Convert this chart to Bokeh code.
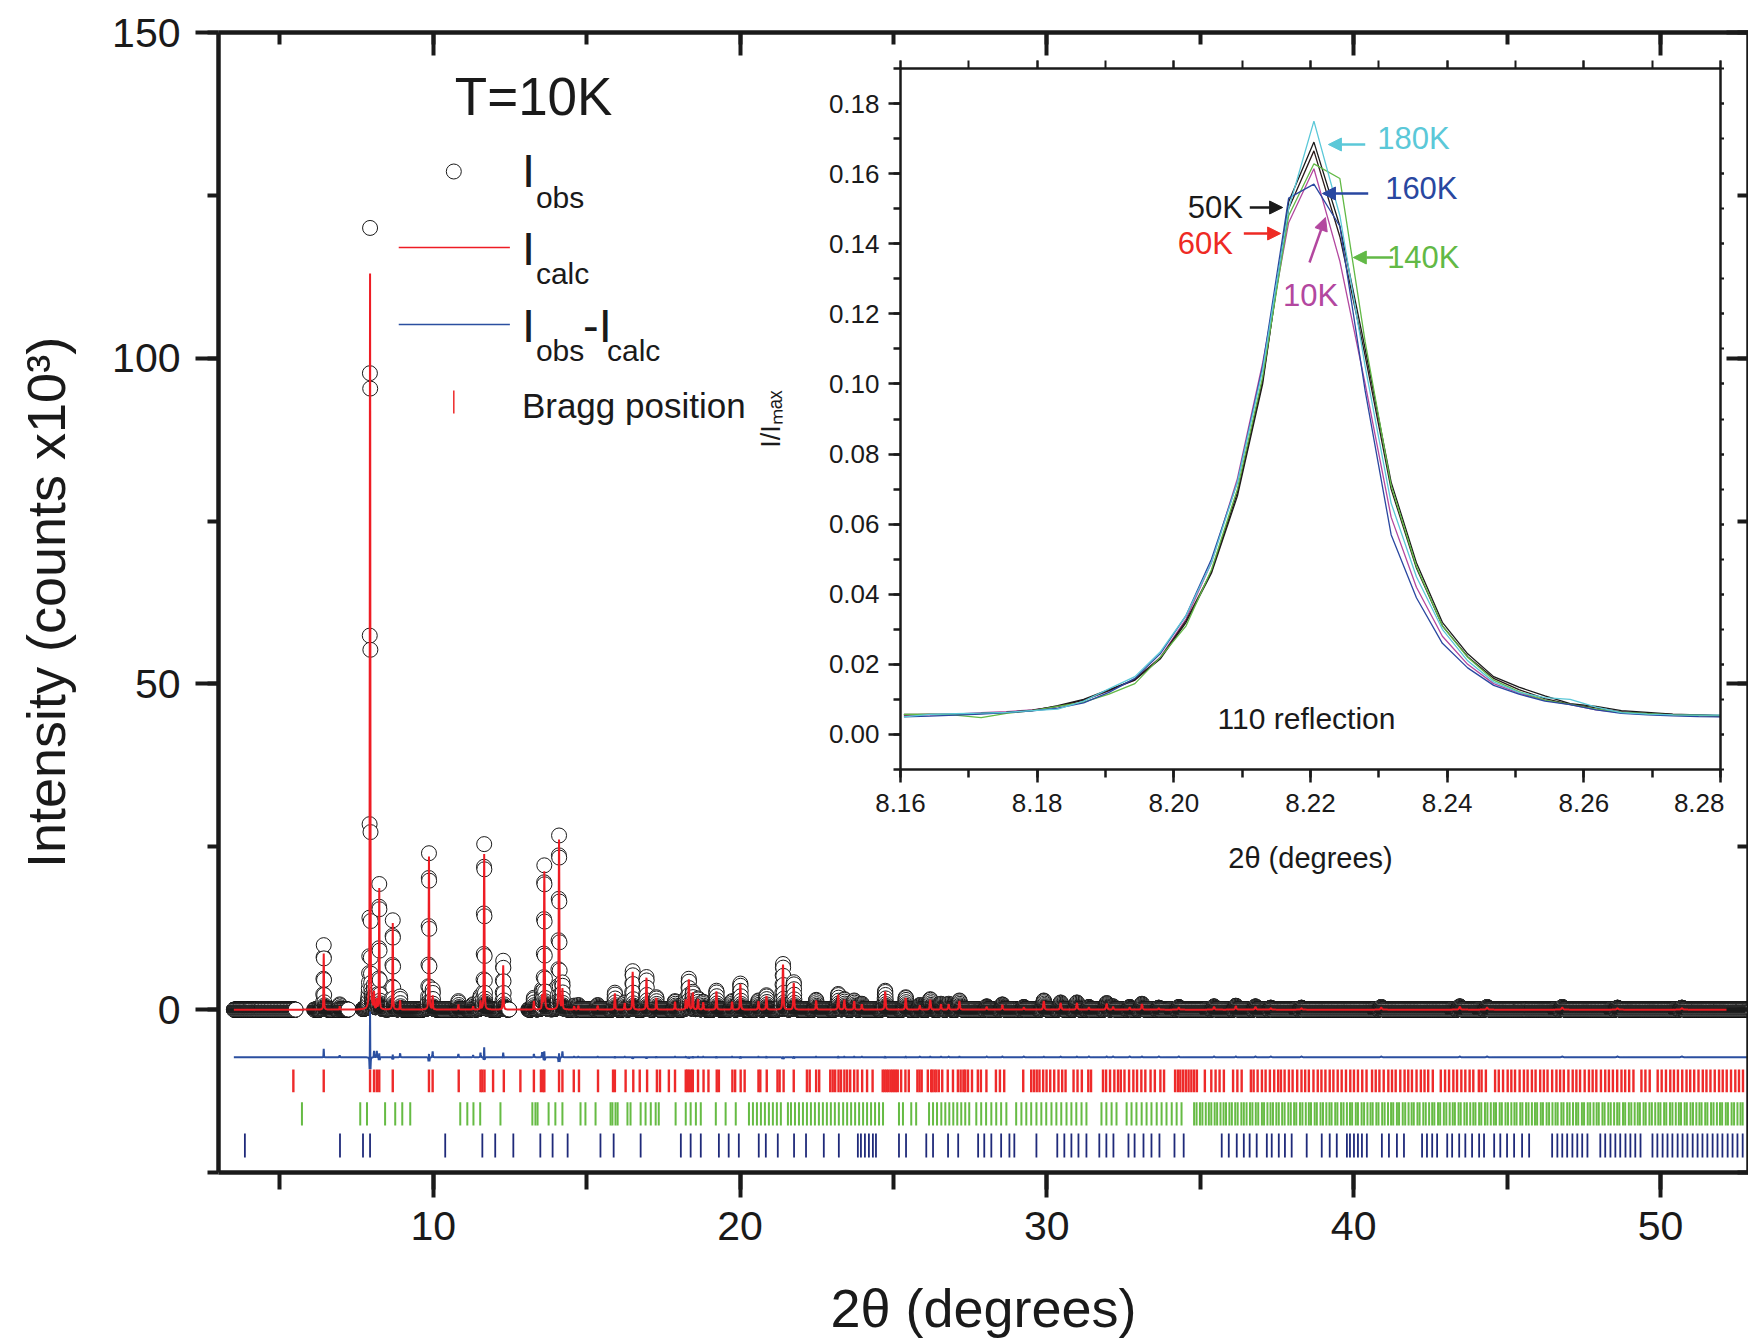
import numpy as np
from bokeh.plotting import figure
from bokeh.models import (Range1d, LinearAxis, SingleIntervalTicker, Label, Arrow,
                          NormalHead, PrintfTickFormatter, CustomJSTickFormatter)
from bokeh.embed import file_html
from bokeh.resources import INLINE

FONT = "Liberation Sans"
INK = "#1a1a1a"

# ---------------------------------------------------------------- main pattern data
# peak positions (2theta, deg), calculated and observed peak heights (counts x10^3)
peak_pos = [6.43, 6.95, 7.94, 8.07, 8.16, 8.24, 8.68, 8.92, 9.86, 9.98, 10.82, 11.30,
            11.54, 11.66, 12.28, 13.28, 13.55, 13.62, 14.10, 14.21, 14.59, 14.73, 15.36,
            15.92, 16.24, 16.50, 16.95, 17.27, 17.88, 18.23, 18.33, 18.46, 18.63, 18.80,
            19.23, 19.74, 20.01, 20.60, 20.86, 21.40, 21.75, 22.48, 23.20, 23.40, 23.72,
            23.97, 24.73, 25.40, 25.86, 26.20, 26.55, 26.80, 27.15, 28.04, 28.55, 29.25,
            29.90, 30.45, 30.98, 31.37, 31.95, 32.16, 32.70, 33.10, 33.65, 34.30, 35.45,
            36.16, 36.80, 37.30, 38.30, 40.90, 43.46, 44.35, 46.80, 48.60, 50.70]
peak_calc = [8.6, 0.5, 113.0, 2.5, 1.5, 18.6, 13.3, 1.4, 23.5, 2.1, 0.8, 0.5,
             1.3, 23.9, 6.8, 1.3, 2.0, 21.2, 26.1, 3.1, 0.5, 0.6, 0.6,
             2.5, 1.0, 5.8, 4.9, 1.8, 1.2, 1.5, 4.6, 2.6, 1.6, 1.1,
             2.8, 1.2, 3.9, 1.3, 2.1, 6.9, 4.1, 1.4, 2.3, 1.5, 1.3,
             0.8, 2.8, 1.8, 0.6, 1.5, 0.8, 0.8, 1.3, 0.4, 0.7, 0.3,
             1.3, 1.0, 1.0, 0.3, 0.9, 0.4, 0.3, 0.8, 0.2, 0.3, 0.4,
             0.5, 0.4, 0.2, 0.2, 0.3, 0.4, 0.3, 0.3, 0.2, 0.2]
peak_obs = [9.9, 0.8, 120.0, 3.5, 2.5, 19.2, 13.7, 2.0, 24.0, 3.0, 1.3, 0.8,
            2.0, 25.4, 7.5, 1.8, 2.8, 22.1, 26.7, 4.0, 0.6, 0.7, 0.7,
            2.6, 1.1, 5.9, 5.0, 1.9, 1.3, 1.6, 4.7, 2.7, 1.7, 1.2,
            2.9, 1.3, 4.0, 1.4, 2.2, 7.0, 4.2, 1.5, 2.4, 1.6, 1.4,
            0.9, 2.9, 1.9, 0.7, 1.6, 0.9, 0.9, 1.4, 0.5, 0.8, 0.4,
            1.4, 1.1, 1.1, 0.4, 1.0, 0.5, 0.4, 0.9, 0.3, 0.4, 0.5,
            0.6, 0.5, 0.3, 0.3, 0.4, 0.5, 0.4, 0.4, 0.3, 0.3]
scan_start, scan_end, scan_step = 3.50015, 53.0, 0.005
gap_start = [5.52, 7.24, 12.48]          # excluded (unmeasured) regions
gap_end = [6.12, 7.70, 13.10]
fwhm_base, fwhm_slope, calc_broadening = 0.019, 0.0010, 1.06
diff_offset = -7.3

# Bragg reflection positions (deg) for the three phases
bragg_1 = [5.44, 6.43, 7.94, 8.07, 8.16, 8.24, 8.68, 9.86, 9.98, 10.83, 11.54, 11.60, 11.67,
           11.95, 12.30, 12.84, 13.28, 13.51, 13.58, 13.62, 14.10, 14.21, 14.58, 14.75, 15.37,
           15.86, 15.92, 16.27, 16.52, 16.73, 16.97, 17.29, 17.39, 17.68, 17.88, 18.23, 18.28,
           18.33, 18.40, 18.46, 18.63, 18.81, 18.97, 19.24, 19.31, 19.75, 19.84, 20.02, 20.15,
           20.60, 20.66, 20.87, 21.22, 21.29, 21.42, 21.75, 22.18, 22.27, 22.48, 22.58, 22.94,
           23.02, 23.10, 23.21, 23.29, 23.40, 23.49, 23.59, 23.72, 23.83, 23.98, 24.14, 24.32,
           24.65, 24.71, 24.77, 24.83, 24.90, 24.96, 25.02, 25.08, 25.14, 25.25, 25.39, 25.50,
           25.78, 25.85, 25.92, 26.12, 26.23, 26.27, 26.34, 26.40, 26.48, 26.59, 26.77, 26.94,
           27.10, 27.19, 27.28, 27.34, 27.43, 27.56, 27.75, 27.85, 28.03, 28.34, 28.47, 28.61,
           29.23, 29.49, 29.58, 29.67, 29.76, 29.88, 29.99, 30.11, 30.24, 30.38, 30.50, 30.61,
           30.87, 31.00, 31.14, 31.35, 31.44, 31.83, 31.93, 32.06, 32.20, 32.32, 32.41, 32.53,
           32.68, 32.82, 32.94, 33.08, 33.21, 33.38, 33.52, 33.70, 33.82, 34.18, 34.27, 34.35,
           34.44, 34.53, 34.62, 34.71, 34.80, 34.89, 35.15, 35.36, 35.50, 35.63, 35.77, 36.07,
           36.21, 36.35, 36.65, 36.74, 36.87, 37.01, 37.13, 37.27, 37.41, 37.54, 37.63, 37.75,
           37.89, 38.01, 38.16, 38.30, 38.42, 38.54, 38.69, 38.83, 38.95, 39.08, 39.22, 39.34,
           39.48, 39.61, 39.75, 39.89, 40.01, 40.14, 40.28, 40.42, 40.60, 40.72, 40.84, 40.98,
           41.13, 41.25, 41.37, 41.52, 41.66, 41.78, 41.90, 42.05, 42.19, 42.31, 42.43, 42.58,
           42.84, 42.98, 43.11, 43.25, 43.37, 43.51, 43.64, 43.78, 43.90, 44.08, 44.17, 44.31,
           44.61, 44.73, 44.87, 45.02, 45.14, 45.26, 45.41, 45.55, 45.67, 45.81, 45.93, 46.08,
           46.20, 46.32, 46.47, 46.61, 46.73, 46.85, 47.00, 47.14, 47.26, 47.38, 47.53, 47.67,
           47.79, 47.91, 48.06, 48.20, 48.32, 48.45, 48.59, 48.73, 48.85, 48.98, 49.12, 49.38,
           49.51, 49.65, 49.91, 50.04, 50.18, 50.32, 50.44, 50.57, 50.71, 50.85, 50.97, 51.10,
           51.24, 51.38, 51.50, 51.63, 51.77, 51.91, 52.03, 52.16, 52.30, 52.44, 52.56, 52.69]
bragg_2 = [5.72, 7.62, 7.84, 8.43, 8.76, 8.99, 9.25, 10.88, 11.11, 11.31, 11.53, 12.19, 13.23,
           13.33, 13.40, 13.76, 13.98, 14.21, 14.80, 14.96, 15.29, 15.78, 15.84, 15.94, 16.01,
           16.33, 16.43, 16.76, 16.92, 17.09, 17.25, 17.35, 17.90, 18.23, 18.39, 18.56, 18.72,
           19.21, 19.53, 19.86, 20.29, 20.42, 20.55, 20.68, 20.81, 20.94, 21.07, 21.20, 21.33,
           21.56, 21.66, 21.79, 21.92, 22.05, 22.18, 22.31, 22.44, 22.57, 22.70, 22.83, 22.96,
           23.09, 23.22, 23.36, 23.49, 23.62, 23.75, 23.88, 24.01, 24.14, 24.27, 24.40, 24.53,
           24.66, 25.18, 25.31, 25.58, 25.74, 26.16, 26.29, 26.42, 26.56, 26.69, 26.82, 26.95,
           27.08, 27.21, 27.34, 27.47, 27.70, 27.86, 28.02, 28.19, 28.35, 28.51, 28.68, 29.00,
           29.17, 29.33, 29.49, 29.66, 29.82, 29.98, 30.15, 30.31, 30.47, 30.64, 30.80, 30.96,
           31.13, 31.29, 31.78, 31.94, 32.11, 32.27, 32.60, 32.76, 32.92, 33.09, 33.25, 33.41,
           33.58, 33.74, 33.90, 34.07, 34.23, 34.39, 34.80, 34.88, 34.99, 35.07, 35.18, 35.28,
           35.36, 35.47, 35.55, 35.66, 35.76, 35.84, 35.95, 36.03, 36.14, 36.22, 36.34, 36.42,
           36.51, 36.62, 36.70, 36.81, 36.89, 37.01, 37.08, 37.19, 37.29, 37.37, 37.48, 37.56,
           37.67, 37.75, 37.87, 37.95, 38.06, 38.13, 38.25, 38.33, 38.44, 38.54, 38.61, 38.73,
           38.80, 38.92, 39.00, 39.11, 39.21, 39.28, 39.40, 39.47, 39.59, 39.67, 39.78, 39.88,
           39.95, 40.07, 40.14, 40.26, 40.34, 40.45, 40.55, 40.62, 40.74, 40.81, 40.93, 41.01,
           41.12, 41.22, 41.29, 41.41, 41.48, 41.60, 41.68, 41.79, 41.89, 41.96, 42.08, 42.15,
           42.27, 42.35, 42.46, 42.56, 42.63, 42.75, 42.82, 42.94, 43.02, 43.13, 43.23, 43.30,
           43.42, 43.49, 43.61, 43.69, 43.80, 43.90, 43.97, 44.09, 44.16, 44.28, 44.36, 44.47,
           44.57, 44.64, 44.76, 44.83, 44.95, 45.03, 45.14, 45.24, 45.31, 45.43, 45.50, 45.62,
           45.70, 45.81, 45.91, 45.98, 46.10, 46.17, 46.29, 46.37, 46.48, 46.58, 46.65, 46.77,
           46.84, 46.96, 47.04, 47.15, 47.25, 47.32, 47.44, 47.51, 47.63, 47.71, 47.82, 47.92,
           47.99, 48.11, 48.18, 48.30, 48.38, 48.49, 48.59, 48.66, 48.78, 48.85, 48.97, 49.05,
           49.16, 49.26, 49.33, 49.45, 49.52, 49.64, 49.72, 49.83, 49.93, 50.00, 50.12, 50.19,
           50.31, 50.39, 50.50, 50.60, 50.67, 50.79, 50.86, 50.98, 51.06, 51.17, 51.27, 51.34,
           51.46, 51.53, 51.65, 51.73, 51.84, 51.94, 52.01, 52.13, 52.20, 52.32, 52.40, 52.51,
           52.61, 52.68]
bragg_3 = [3.86, 6.96, 7.71, 7.94, 10.39, 11.60, 12.02, 12.61, 13.49, 13.89, 14.38, 15.45,
           15.88, 16.76, 18.07, 18.39, 18.72, 19.31, 19.63, 19.96, 20.61, 20.84, 21.23, 21.76,
           22.15, 22.73, 23.22, 23.84, 23.94, 24.07, 24.20, 24.33, 24.43, 25.18, 25.41, 26.07,
           26.29, 26.78, 27.11, 27.76, 27.96, 28.19, 28.51, 28.78, 28.94, 29.66, 30.34, 30.57,
           30.80, 31.03, 31.29, 31.71, 31.94, 32.17, 32.66, 32.86, 33.15, 33.41, 33.67, 34.16,
           34.46, 35.70, 35.93, 36.19, 36.42, 36.61, 36.84, 37.17, 37.33, 37.56, 37.76, 37.98,
           38.47, 38.96, 39.22, 39.45, 39.78, 39.88, 40.01, 40.14, 40.27, 40.43, 40.92, 41.15,
           41.41, 41.64, 42.23, 42.39, 42.56, 42.72, 43.05, 43.21, 43.44, 43.64, 43.86, 44.09,
           44.25, 44.58, 44.78, 45.00, 45.23, 45.49, 45.72, 46.47, 46.64, 46.80, 46.96, 47.13,
           47.29, 47.45, 47.62, 48.04, 48.20, 48.37, 48.53, 48.69, 48.86, 49.02, 49.18, 49.35,
           49.74, 49.90, 50.07, 50.23, 50.39, 50.56, 50.72, 50.88, 51.05, 51.21, 51.37, 51.53,
           51.70, 51.86, 52.02, 52.19, 52.35, 52.51, 52.68]

# ---------------------------------------------------------------- inset (110 reflection)
inset_x = [8.1605, 8.1643, 8.1680, 8.1718, 8.1755, 8.1793, 8.1830, 8.1868, 8.1905, 8.1943,
           8.1980, 8.2018, 8.2055, 8.2093, 8.2130, 8.2168, 8.2205, 8.2243, 8.2280, 8.2318,
           8.2355, 8.2393, 8.2430, 8.2468, 8.2505, 8.2543, 8.2580, 8.2618, 8.2655, 8.2693,
           8.2730, 8.2768, 8.2805]
inset_10K = [0.0055, 0.0056, 0.0058, 0.0062, 0.0065, 0.0070, 0.0080, 0.0098, 0.0125, 0.0155,
             0.0220, 0.0330, 0.0490, 0.0730, 0.1060, 0.1460, 0.1614, 0.1350, 0.1000, 0.0620,
             0.0420, 0.0280, 0.0200, 0.0145, 0.0118, 0.0098, 0.0085, 0.0070, 0.0062, 0.0058,
             0.0055, 0.0053, 0.0051]
inset_50K = [0.0056, 0.0057, 0.0058, 0.0060, 0.0063, 0.0068, 0.0082, 0.0100, 0.0128, 0.0155,
             0.0215, 0.0320, 0.0460, 0.0680, 0.1000, 0.1520, 0.1690, 0.1450, 0.1100, 0.0720,
             0.0490, 0.0320, 0.0230, 0.0165, 0.0135, 0.0110, 0.0088, 0.0080, 0.0068, 0.0063,
             0.0058, 0.0056, 0.0054]
inset_60K = [0.0057, 0.0057, 0.0058, 0.0060, 0.0063, 0.0069, 0.0080, 0.0098, 0.0125, 0.0158,
             0.0218, 0.0325, 0.0465, 0.0690, 0.1010, 0.1500, 0.1665, 0.1420, 0.1080, 0.0700,
             0.0475, 0.0310, 0.0222, 0.0160, 0.0128, 0.0102, 0.0086, 0.0076, 0.0064, 0.0060,
             0.0057, 0.0055, 0.0053]
inset_140K = [0.0057, 0.0057, 0.0055, 0.0048, 0.0060, 0.0068, 0.0080, 0.0092, 0.0115, 0.0145,
              0.0220, 0.0310, 0.0470, 0.0700, 0.1020, 0.1480, 0.1628, 0.1586, 0.1120, 0.0710,
              0.0480, 0.0310, 0.0220, 0.0155, 0.0122, 0.0098, 0.0086, 0.0072, 0.0063, 0.0059,
              0.0056, 0.0054, 0.0052]
inset_160K = [0.0050, 0.0052, 0.0055, 0.0058, 0.0062, 0.0067, 0.0075, 0.0090, 0.0120, 0.0160,
              0.0230, 0.0340, 0.0500, 0.0720, 0.1050, 0.1530, 0.1570, 0.1450, 0.0980, 0.0570,
              0.0390, 0.0260, 0.0190, 0.0140, 0.0115, 0.0095, 0.0085, 0.0070, 0.0060, 0.0056,
              0.0053, 0.0051, 0.0050]
inset_180K = [0.0050, 0.0057, 0.0059, 0.0061, 0.0063, 0.0068, 0.0072, 0.0095, 0.0130, 0.0165,
              0.0235, 0.0340, 0.0490, 0.0720, 0.1040, 0.1500, 0.1750, 0.1480, 0.1050, 0.0660,
              0.0450, 0.0300, 0.0210, 0.0150, 0.0120, 0.0105, 0.0100, 0.0078, 0.0062, 0.0058,
              0.0056, 0.0055, 0.0055]
inset_names = ["10K", "50K", "60K", "140K", "160K", "180K"]
inset_series = [inset_10K, inset_50K, inset_60K, inset_140K, inset_160K, inset_180K]
inset_colors = ["#b3479f", "#1a1a1a", "#2a1a1a", "#62b946", "#2947a0", "#5bc8d8"]

# ---------------------------------------------------------------- geometry (page px)
W, H = 1748, 1342
MX0, MX1, MY0, MY1 = 3.0, 52.87, -25.0, 150.0
M_L, M_R, M_T, M_B = 218, 1746, 32, 1172


def mx(px):
    return MX0 + (px - M_L) * (MX1 - MX0) / (M_R - M_L)


def my(py):
    return MY0 + (M_B - py) * (MY1 - MY0) / (M_B - M_T)


IX0, IX1, IY0, IY1 = 8.16, 8.28, -0.01, 0.19
I_L, I_R, I_T, I_B = 897, 1721, 68, 769
I_CANVAS_L, I_CANVAS_T, I_CANVAS_B = 752, 44, 885


def ix(px):
    return IX0 + (px - I_L) * (IX1 - IX0) / (I_R - I_L)


def iy(py):
    return IY0 + (I_B - py) * (IY1 - IY0) / (I_B - I_T)


BLANK = CustomJSTickFormatter(code="return ''")


def style_axis(ax, lw, tlw, maj_out, maj_in, min_out, min_in, lab_size, standoff):
    ax.axis_line_width = lw
    ax.axis_line_color = INK
    ax.major_tick_line_width = tlw
    ax.minor_tick_line_width = tlw
    ax.major_tick_line_color = INK
    ax.minor_tick_line_color = INK
    ax.major_tick_out = maj_out
    ax.major_tick_in = maj_in
    ax.minor_tick_out = min_out
    ax.minor_tick_in = min_in
    ax.major_label_text_font = FONT
    ax.major_label_text_font_size = lab_size
    ax.major_label_text_color = INK
    ax.major_label_standoff = standoff
    ax.axis_label_text_font = FONT
    ax.axis_label_text_font_style = "normal"
    ax.axis_label_text_color = INK


# ---------------------------------------------------------------- main figure
p = figure(width=W, height=H, x_range=Range1d(MX0, MX1), y_range=Range1d(MY0, MY1),
           output_backend="svg", toolbar_location=None,
           min_border_left=M_L, min_border_right=0, min_border_top=M_T,
           min_border_bottom=H - M_B)
p.outline_line_color = None
p.grid.visible = False
p.background_fill_color = "white"
p.border_fill_color = "white"

xt = SingleIntervalTicker(interval=10, num_minor_ticks=2)
yt = SingleIntervalTicker(interval=50, num_minor_ticks=2)
p.xaxis.ticker = xt
p.yaxis.ticker = yt
xa = p.xaxis[0]
style_axis(xa, 4.5, 4, 25, 0, 17, 0, "41px", 14)
xa.axis_label = "2θ (degrees)"
xa.axis_label_text_font_size = "54px"
xa.axis_label_standoff = 35
ya = p.yaxis[0]
style_axis(ya, 4.5, 4, 23, 0, 11, 0, "41px", 15)
ya.axis_label = "Intensity (counts x10³)"
ya.axis_label_text_font_size = "54px"
ya.axis_label_standoff = 33

top_ax = LinearAxis(ticker=xt, formatter=BLANK)
style_axis(top_ax, 4.5, 4, 0, 23, 0, 12, "0px", 0)
p.add_layout(top_ax, "above")
right_ax = LinearAxis(ticker=yt, formatter=BLANK)
style_axis(right_ax, 4.5, 4, 0, 22, 0, 11, "0px", 0)
p.add_layout(right_ax, "right")

# refined pattern profile built from the read peak list
scan = np.round(np.arange(scan_start, scan_end + 1e-9, scan_step), 5)


def pseudo_voigt(x, centre, fwhm, eta=0.5):
    d = (x - centre) / fwhm
    return eta / (1 + 4 * d * d) + (1 - eta) * np.exp(-4 * np.log(2) * d * d)


obs = np.zeros_like(scan)
calc = np.zeros_like(scan)
for pos, hc, ho in zip(peak_pos, peak_calc, peak_obs):
    w = fwhm_base + fwhm_slope * max(pos - 8.0, 0.0)
    obs += ho * pseudo_voigt(scan, pos, w)
    calc += hc * pseudo_voigt(scan, pos, w * calc_broadening)
measured = np.ones_like(scan, dtype=bool)
for g0, g1 in zip(gap_start, gap_end):
    measured &= ~((scan > g0) & (scan < g1))
diff = np.where(measured, obs - calc, 0.0) + diff_offset

p.scatter(scan[measured], obs[measured], marker="circle", size=15,
          fill_color="white", line_color=INK, line_width=1)
p.line(scan, calc, line_color="#ee1c24", line_width=2)
p.line(scan, diff, line_color="#2b4fa0", line_width=2)

p.segment(x0=bragg_1, x1=bragg_1, y0=-9.2, y1=-12.7, line_color="#ee2a2a", line_width=2.4)
p.segment(x0=bragg_2, x1=bragg_2, y0=-14.2, y1=-17.8, line_color="#66bb44", line_width=2.0)
p.segment(x0=bragg_3, x1=bragg_3, y0=-19.0, y1=-22.7, line_color="#1f2a7a", line_width=1.8)

# legend (drawn by hand: subscripted labels)
p.scatter([mx(453)], [my(171)], marker="circle", size=15, fill_color="white",
          line_color=INK, line_width=1)
p.line([mx(398), mx(509)], [my(247), my(247)], line_color="#ee1c24", line_width=1.5)
p.line([mx(398), mx(509)], [my(324), my(324)], line_color="#2b4fa0", line_width=1.5)
p.segment(x0=[mx(453)], x1=[mx(453)], y0=[my(390)], y1=[my(413)],
          line_color="#ee2a2a", line_width=1.5)


def main_label(px, py, text, size):
    # py: vertical middle of the capitals
    p.add_layout(Label(x=mx(px), y=my(py), text=text, text_font=FONT,
                       text_font_size=size, text_color=INK, text_baseline="middle"))


main_label(454, 96, "T=10K", "53px")
main_label(521, 170, "I", "47px")
main_label(535, 197, "obs", "30px")
main_label(521, 248, "I", "47px")
main_label(535, 273, "calc", "30px")
main_label(521, 325, "I", "47px")
main_label(535, 350, "obs", "30px")
main_label(582, 325, "-I", "47px")
main_label(606, 350, "calc", "30px")
main_label(521, 405, "Bragg position", "35px")

# ---------------------------------------------------------------- inset figure
QW = I_R + 3 - I_CANVAS_L
QH = I_CANVAS_B - I_CANVAS_T
q = figure(width=QW, height=QH, x_range=Range1d(IX0, IX1), y_range=Range1d(IY0, IY1),
           output_backend="svg", toolbar_location=None,
           min_border_left=I_L - I_CANVAS_L, min_border_right=3,
           min_border_top=I_T - I_CANVAS_T, min_border_bottom=I_CANVAS_B - I_B)
q.styles = {"position": "absolute", "left": f"{I_CANVAS_L}px", "top": f"{I_CANVAS_T}px",
            "z-index": "10"}
q.outline_line_color = None
q.grid.visible = False
q.background_fill_color = None
q.border_fill_color = None

qxt = SingleIntervalTicker(interval=0.02, num_minor_ticks=2)
qyt = SingleIntervalTicker(interval=0.02, num_minor_ticks=2)
q.xaxis.ticker = qxt
q.yaxis.ticker = qyt
qxa = q.xaxis[0]
style_axis(qxa, 2.5, 2.5, 13, 0, 8, 0, "26px", 11)
qxa.formatter = PrintfTickFormatter(format="%.2f")
qxa.axis_label = "2θ (degrees)"
qxa.axis_label_text_font_size = "29px"
qxa.axis_label_standoff = 27
qya = q.yaxis[0]
style_axis(qya, 2.5, 2.5, 12, 0, 7, 0, "26px", 9)
qya.formatter = PrintfTickFormatter(format="%.2f")
qya.axis_label = "I/Iₘₐₓ"
qya.axis_label_text_font_size = "27px"
qya.axis_label_standoff = 40

q_top = LinearAxis(ticker=qxt, formatter=BLANK)
style_axis(q_top, 2.5, 2, 8, 0, 8, 0, "0px", 0)
q.add_layout(q_top, "above")
q_right = LinearAxis(ticker=qyt, formatter=BLANK)
style_axis(q_right, 2.5, 2, 4, 0, 4, 0, "0px", 0)
q.add_layout(q_right, "right")

for name, ys, col in zip(inset_names, inset_series, inset_colors):
    q.line(inset_x, ys, line_color=col, line_width=1.3)

q.add_layout(Label(x=ix(1305), y=iy(718), text="110 reflection", text_font=FONT,
                   text_font_size="30px", text_color=INK, text_align="center",
                   text_baseline="middle"))

annotations = [
    # text, colour, text px, text py, align, arrow start px/py, arrow end px/py
    ("180K", "#5bc8d8", 1376, 138, "left", (1364, 144), (1327, 144)),
    ("160K", "#2947a0", 1384, 188, "left", (1367, 193), (1321, 193)),
    ("50K", "#1a1a1a", 1241, 207, "right", (1248, 207), (1281, 207)),
    ("60K", "#ee2a24", 1231, 243, "right", (1242, 233), (1279, 233)),
    ("140K", "#62b946", 1386, 257, "left", (1392, 257), (1352, 257)),
    ("10K", "#b3479f", 1309, 295, "center", (1308, 262), (1324, 217)),
]
for text, col, tx, ty, align, (sx, sy), (ex, ey) in annotations:
    q.add_layout(Label(x=ix(tx), y=iy(ty), text=text, text_font=FONT,
                       text_font_size="31px", text_color=col, text_align=align,
                       text_baseline="middle"))
    q.add_layout(Arrow(x_start=ix(sx), y_start=iy(sy), x_end=ix(ex), y_end=iy(ey),
                       line_color=col, line_width=2.5,
                       end=NormalHead(size=13, fill_color=col, line_color=col)))

open("out.html", "w").write(file_html([p, q], INLINE, title="Rietveld refinement, T=10K"))
